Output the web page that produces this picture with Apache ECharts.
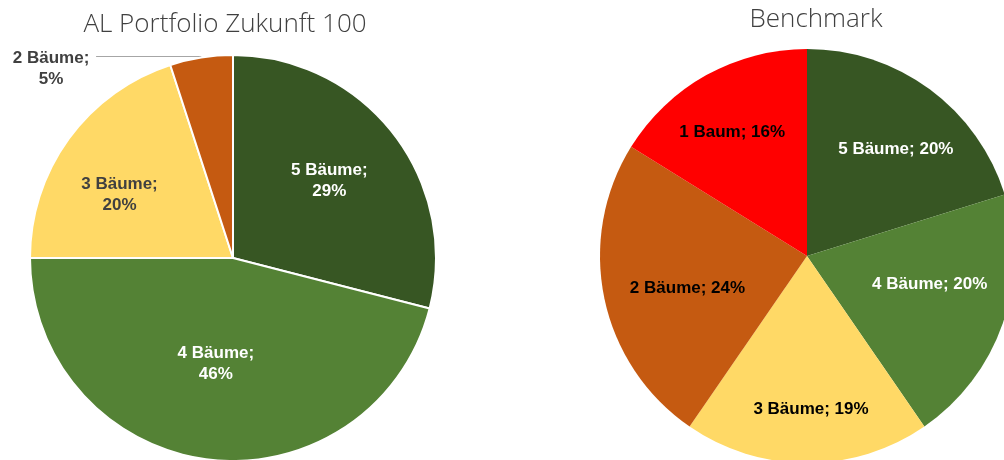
<!DOCTYPE html>
<html><head><meta charset="utf-8">
<script src="https://cdn.jsdelivr.net/npm/echarts@6/dist/echarts.min.js"></script>
<style>html,body{margin:0;padding:0;background:#fff}#c{width:1004px;height:460px}</style>
</head><body><div id="c"></div>
<script>
// ---- data ----
const leftTitle = 'AL Portfolio Zukunft 100';
const leftCategories = ['5 Bäume', '4 Bäume', '3 Bäume', '2 Bäume'];
const leftValues = [29, 46, 20, 5];
const rightTitle = 'Benchmark';
const rightCategories = ['5 Bäume', '4 Bäume', '3 Bäume', '2 Bäume', '1 Baum'];
const rightValues = [20, 20, 19, 24, 16];

// ---- styles ----
const colorMap = {'5 Bäume':'#375623','4 Bäume':'#548235','3 Bäume':'#FFD966','2 Bäume':'#C55A11','1 Baum':'#FF0000'};
const leftLabelColor = {'5 Bäume':'#ffffff','4 Bäume':'#ffffff','3 Bäume':'#404040','2 Bäume':'#404040'};
const rightLabelColor = {'5 Bäume':'#ffffff','4 Bäume':'#ffffff','3 Bäume':'#000000','2 Bäume':'#000000','1 Baum':'#000000'};
// placement of inside labels: [fraction of radius, angular shift in degrees]
const leftLabelPlace = {'5 Bäume':[0.60,-1],'4 Bäume':[0.52,2],'3 Bäume':[0.63,-7]};
const rightLabelPlace = {'5 Bäume':[0.66,3.5],'4 Bäume':[0.60,-6],'3 Bäume':[0.73,-1.5],'2 Bäume':[0.59,-3.5],'1 Baum':[0.69,-2]};
const labelFont = {fontFamily:'Liberation Sans, Arial, sans-serif', fontWeight:'bold', fontSize:17};
const titleFont = {fontFamily:'Open Sans', fontWeight:300, fontSize:26, color:'#404040'};

const L = {center:[233,258], r:203};
const R = {center:[807,256], r:207};

function mainData(cats, vals, border, outsideCats, labelColors){
  return cats.map((c,i)=>({
    name:c, value:vals[i],
    itemStyle:{color:colorMap[c], borderColor:'#fff', borderWidth:border},
    label: outsideCats.includes(c)
      ? {show:true, position:'outside', formatter:'{a|{b};}\n{a|{c}%}', padding:[25,0,0,0],
         rich:{a:{width:80, align:'center', lineHeight:21, color:labelColors[c], ...labelFont}}}
      : {show:false},
    labelLine: outsideCats.includes(c)
      ? {show:true, length:1, length2:105, lineStyle:{color:'#A6A6A6', width:1}}
      : {show:false}
  }));
}
// overlay pie with radius 2r: its inside labels sit at distance r; labelLayout moves them inward
function labelData(cats, vals, outsideCats, labelColors, fmt){
  return cats.map((c,i)=>({
    name:c, value:vals[i],
    itemStyle:{color:'rgba(0,0,0,0)', borderWidth:0},
    label: outsideCats.includes(c) ? {show:false}
      : {show:true, position:'inside', formatter:fmt, color:labelColors[c], lineHeight:21, ...labelFont}
  }));
}
function radialLayout(P, cats, place){
  return function(p){
    const pl = place[cats[p.dataIndex]];
    if (!pl) return {};
    const r = p.labelRect;
    const dx = r.x + r.width/2 - P.center[0], dy = r.y + r.height/2 - P.center[1];
    const d = Math.sqrt(dx*dx + dy*dy) * pl[0];
    const a = Math.atan2(dy, dx) + pl[1] * Math.PI / 180;
    return {x: P.center[0] + d * Math.cos(a), y: P.center[1] + d * Math.sin(a),
            align:'center', verticalAlign:'middle'};
  };
}

const chart = echarts.init(document.getElementById('c'), null, {renderer:'canvas'});
chart.setOption({
  animation:false,
  title:[
    {text:leftTitle, left:225, top:12, textAlign:'center', padding:0, textStyle:titleFont},
    {text:rightTitle, left:816, top:7, textAlign:'center', padding:0, textStyle:titleFont}
  ],
  series:[
    {type:'pie', center:L.center, radius:[0,L.r], startAngle:90, clockwise:true, silent:true,
     avoidLabelOverlap:false, emphasis:{disabled:true},
     data:mainData(leftCategories,leftValues,2,['2 Bäume'],leftLabelColor)},
    {type:'pie', center:L.center, radius:[0,L.r*2], startAngle:90, clockwise:true, silent:true, z:3,
     emphasis:{disabled:true}, labelLine:{show:false},
     labelLayout:radialLayout(L, leftCategories, leftLabelPlace),
     data:labelData(leftCategories,leftValues,['2 Bäume'],leftLabelColor,'{b};\n{c}%')},
    {type:'pie', center:R.center, radius:[0,R.r], startAngle:90, clockwise:true, silent:true,
     emphasis:{disabled:true}, label:{show:false}, labelLine:{show:false},
     data:mainData(rightCategories,rightValues,0,[],rightLabelColor)},
    {type:'pie', center:R.center, radius:[0,R.r*2], startAngle:90, clockwise:true, silent:true, z:3,
     emphasis:{disabled:true}, labelLine:{show:false},
     labelLayout:radialLayout(R, rightCategories, rightLabelPlace),
     data:labelData(rightCategories,rightValues,[],rightLabelColor,'{b}; {c}%')}
  ]
});
</script></body></html>
